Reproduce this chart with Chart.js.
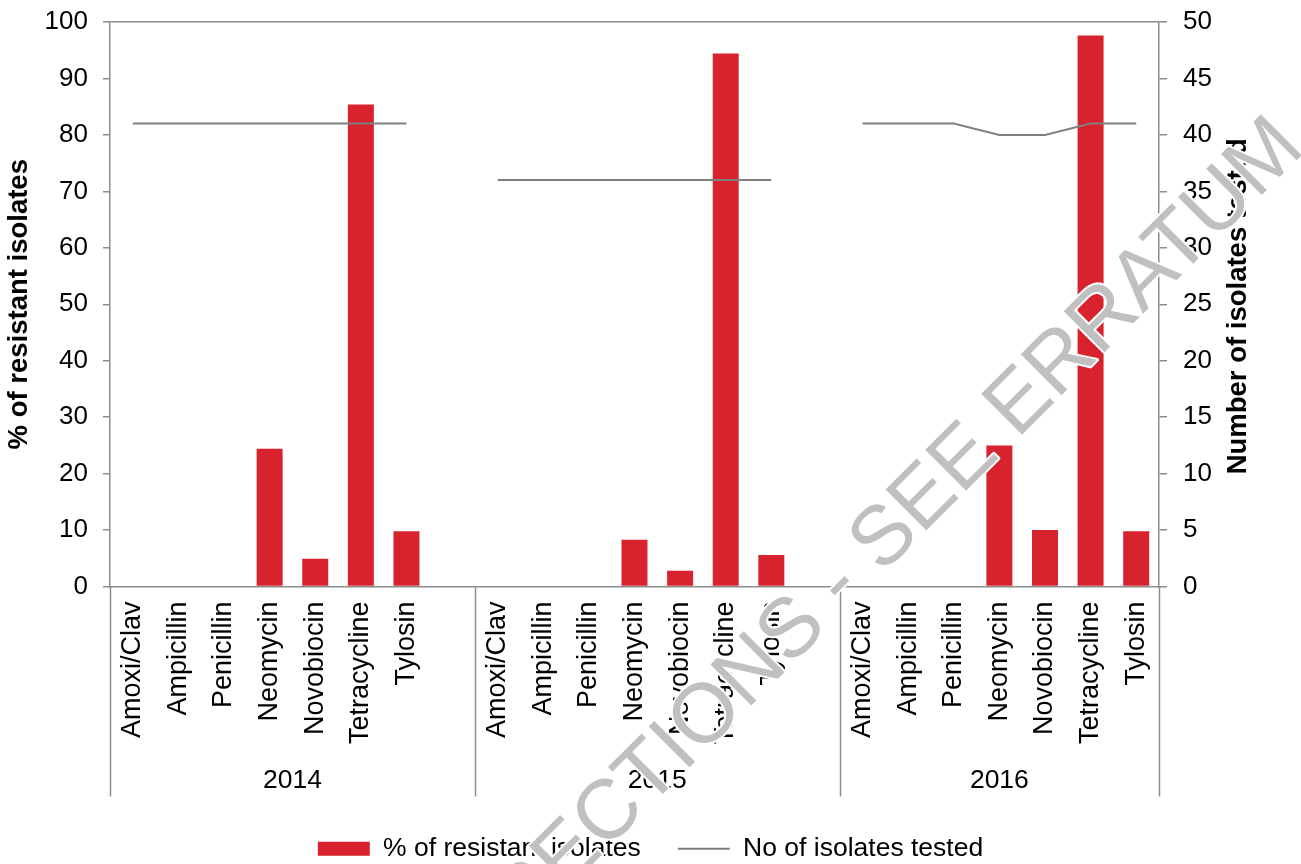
<!DOCTYPE html>
<html>
<head>
<meta charset="utf-8">
<script src="https://cdn.jsdelivr.net/npm/chart.js@4.4.1/dist/chart.umd.min.js"></script>
<style>
  html, body { margin: 0; padding: 0; background: #fff; overflow: hidden; }
  #wrap { width: 1301px; height: 864px; position: relative; }
</style>
</head>
<body>
<div id="wrap"><canvas id="c"></canvas></div>
<script>
// ---- data ----
const antibiotics = ['Amoxi/Clav', 'Ampicillin', 'Penicillin', 'Neomycin', 'Novobiocin', 'Tetracycline', 'Tylosin'];
const years = ['2014', '2015', '2016'];
const resistant2014 = [0, 0, 0, 24.4, 4.9, 85.4, 9.8];
const resistant2015 = [0, 0, 0, 8.3, 2.8, 94.4, 5.6];
const resistant2016 = [0, 0, 0, 25.0, 10.0, 97.6, 9.8];
const tested2014 = [41, 41, 41, 41, 41, 41, 41];
const tested2015 = [36, 36, 36, 36, 36, 36, 36];
const tested2016 = [41, 41, 41, 40, 40, 41, 41];
const seriesNames = ['% of resistant isolates', 'No of isolates tested'];
const axisTitles = ['% of resistant isolates', 'Number of isolates tested'];

// ---- build category table (blank category between year groups) ----
const resistantByYear = [resistant2014, resistant2015, resistant2016];
const testedByYear = [tested2014, tested2015, tested2016];
const labels = [], resistant = [], tested = [], groups = [];
years.forEach((y, gi) => {
  const start = labels.length;
  antibiotics.forEach((a, i) => {
    labels.push(a);
    resistant.push(resistantByYear[gi][i]);
    tested.push(testedByYear[gi][i]);
  });
  if (gi < years.length - 1) { labels.push(''); resistant.push(null); tested.push(null); }
  groups.push({ label: y, start: start, end: labels.length });
});

const FONT = '"Liberation Sans", Arial, Helvetica, sans-serif';
const AXIS_GRAY = '#8c8c8c';
Chart.defaults.font.family = FONT;
Chart.defaults.font.size = 26;
Chart.defaults.color = '#000';

const extrasPlugin = {
  id: 'extras',
  afterDraw(chart) {
    const ctx = chart.ctx;
    const ca = chart.chartArea;
    const n = labels.length;
    const w = (ca.right - ca.left) / n;
    const groupBottom = ca.bottom + 210;
    ctx.save();
    // group separators
    ctx.strokeStyle = AXIS_GRAY;
    ctx.lineWidth = 1.5;
    const bounds = [0].concat(groups.map(g => g.end));
    bounds.forEach(b => {
      const x = Math.round(ca.left + b * w) + 0.5;
      ctx.beginPath();
      ctx.moveTo(x, ca.bottom);
      ctx.lineTo(x, groupBottom);
      ctx.stroke();
    });
    // year labels
    ctx.fillStyle = '#000';
    ctx.font = '26.5px ' + FONT;
    ctx.textAlign = 'center';
    ctx.textBaseline = 'middle';
    groups.forEach(g => {
      const cx = ca.left + (g.start + g.end) / 2 * w;
      ctx.fillText(g.label, cx, groupBottom - 16);
    });
    // right axis title (reads bottom-to-top)
    ctx.save();
    ctx.translate(1238, (ca.top + ca.bottom) / 2 + 2);
    ctx.rotate(-Math.PI / 2);
    ctx.font = 'bold 27.5px ' + FONT;
    ctx.fillText(axisTitles[1], 0, 0);
    ctx.restore();
    // watermark
    ctx.save();
    ctx.translate(832, 592);
    ctx.rotate(-Math.PI / 4);
    ctx.font = '84px ' + FONT;
    ctx.textAlign = 'center';
    ctx.textBaseline = 'middle';
    ctx.lineJoin = 'round';
    ctx.strokeStyle = '#ffffff';
    ctx.lineWidth = 4;
    ctx.strokeText('CORRECTIONS - SEE ERRATUM', 0, 0);
    ctx.fillStyle = '#c0c0c0';
    ctx.fillText('CORRECTIONS - SEE ERRATUM', 0, 0);
    ctx.restore();
    ctx.restore();
  }
};

new Chart(document.getElementById('c'), {
  data: {
    labels: labels,
    datasets: [
      {
        type: 'bar',
        label: seriesNames[0],
        data: resistant,
        backgroundColor: '#d8232f',
        borderWidth: 0,
        barPercentage: 0.57,
        categoryPercentage: 1.0,
        yAxisID: 'y',
        order: 1
      },
      {
        type: 'line',
        label: seriesNames[1],
        data: tested,
        borderColor: '#808080',
        backgroundColor: '#808080',
        borderWidth: 2,
        pointRadius: 0,
        tension: 0,
        spanGaps: false,
        yAxisID: 'y1',
        order: 0
      }
    ]
  },
  options: {
    responsive: true,
    maintainAspectRatio: false,
    animation: false,
    layout: { padding: { top: 22, bottom: -8, left: 0, right: 0 } },
    plugins: {
      tooltip: { enabled: false },
      legend: {
        position: 'bottom',
        labels: {
          usePointStyle: true,
          pointStyleWidth: 52,
          boxHeight: 14,
          padding: 37,
          font: { size: 26.5 },
          color: '#000',
          generateLabels(chart) {
            const items = Chart.defaults.plugins.legend.labels.generateLabels(chart);
            items.forEach(it => { it.pointStyle = it.datasetIndex === 0 ? 'rect' : 'line'; });
            return items.sort((a, b) => a.datasetIndex - b.datasetIndex);
          }
        }
      }
    },
    scales: {
      x: {
        type: 'category',
        offset: true,
        grid: { display: false, drawTicks: false },
        border: { display: true, color: AXIS_GRAY, width: 1.5 },
        ticks: { autoSkip: false, minRotation: 90, maxRotation: 90, padding: 15, font: { size: 27 }, color: '#000' },
        afterFit(scale) { scale.height = 212; }
      },
      y: {
        position: 'left',
        min: 0, max: 100,
        ticks: { stepSize: 10, padding: 15, font: { size: 26 }, color: '#000' },
        grid: {
          color: c => (c.tick && c.tick.value === 100) ? AXIS_GRAY : 'rgba(0,0,0,0)',
          lineWidth: 1.5,
          tickColor: AXIS_GRAY,
          tickLength: 7
        },
        border: { display: true, color: AXIS_GRAY, width: 1.5 },
        title: { display: true, text: axisTitles[0], font: { size: 27.5, weight: 'bold' }, color: '#000', padding: { top: 3, bottom: 4 } },
        afterFit(scale) { scale.width = 110; scale.paddingTop = 0; scale.paddingBottom = 0; }
      },
      y1: {
        position: 'right',
        min: 0, max: 50,
        ticks: { stepSize: 5, padding: 16, font: { size: 26 }, color: '#000' },
        grid: { drawOnChartArea: false, tickColor: AXIS_GRAY, tickLength: 8, lineWidth: 1.5 },
        border: { display: true, color: AXIS_GRAY, width: 1.5 },
        afterFit(scale) { scale.width = 142; scale.paddingTop = 0; scale.paddingBottom = 0; }
      }
    }
  },
  plugins: [extrasPlugin]
});
</script>
</body>
</html>
